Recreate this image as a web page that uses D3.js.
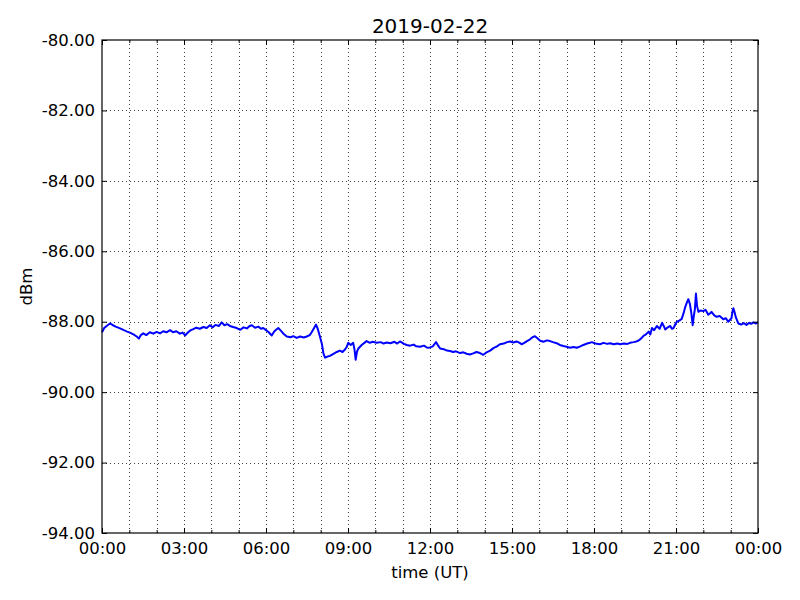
<!DOCTYPE html>
<html>
<head>
<meta charset="utf-8">
<title>2019-02-22</title>
<style>
  html, body { margin: 0; padding: 0; background: #fff; }
  svg { display: block; }
  text { font-family: "DejaVu Sans", sans-serif; fill: #000; }
  .grid line { stroke: #000; stroke-width: 1; stroke-dasharray: 1,3; opacity: 0.75; }
</style>
</head>
<body>
<svg id="chart" width="800" height="600"></svg>
<script src="https://cdn.jsdelivr.net/npm/d3@7"></script>
<script>
// hours since 00:00 UT
var hours = [
  0.00, 0.08, 0.17, 0.29, 0.40, 0.50, 0.66, 0.80, 0.92, 1.02, 1.15, 1.27, 1.35, 1.42, 1.51, 1.62, 1.75, 1.88,
  2.00, 2.12, 2.24, 2.36, 2.49, 2.60, 2.72, 2.85, 2.95, 3.04, 3.15, 3.25, 3.34, 3.45, 3.58, 3.71, 3.83, 3.95,
  4.05, 4.15, 4.28, 4.38, 4.48, 4.58, 4.68, 4.80, 4.93, 5.06, 5.18, 5.30, 5.40, 5.48, 5.60, 5.72, 5.82, 5.90,
  6.00, 6.10, 6.21, 6.30, 6.38, 6.45, 6.55, 6.65, 6.76, 6.90, 7.00, 7.12, 7.25, 7.38, 7.49, 7.60, 7.67, 7.76,
  7.83, 7.90, 7.98, 8.05, 8.10, 8.16, 8.25, 8.34, 8.45, 8.59, 8.70, 8.80, 8.89, 8.95, 9.01, 9.10, 9.19, 9.24,
  9.28, 9.33, 9.38, 9.50, 9.60, 9.68, 9.80, 9.90, 10.05, 10.20, 10.30, 10.42, 10.55, 10.70, 10.80, 10.90,
  11.05, 11.15, 11.27, 11.40, 11.50, 11.64, 11.78, 11.90, 12.00, 12.10, 12.22, 12.30, 12.37, 12.50, 12.62,
  12.73, 12.85, 12.95, 13.10, 13.22, 13.34, 13.46, 13.58, 13.70, 13.83, 13.95, 14.05, 14.20, 14.32, 14.45,
  14.56, 14.70, 14.82, 14.93, 15.05, 15.17, 15.28, 15.35, 15.45, 15.55, 15.66, 15.75, 15.84, 15.93, 16.03,
  16.15, 16.28, 16.39, 16.50, 16.63, 16.75, 16.88, 17.00, 17.12, 17.25, 17.37, 17.50, 17.61, 17.75, 17.85,
  17.92, 18.05, 18.22, 18.35, 18.48, 18.59, 18.72, 18.85, 18.96, 19.10, 19.22, 19.32, 19.45, 19.55, 19.62,
  19.72, 19.81, 19.90, 20.00, 20.06, 20.12, 20.20, 20.30, 20.40, 20.49, 20.55, 20.61, 20.70, 20.79, 20.85,
  20.91, 20.97, 21.03, 21.12, 21.21, 21.28, 21.33, 21.40, 21.45, 21.51, 21.56, 21.61, 21.65, 21.69, 21.73,
  21.77, 21.82, 21.90, 22.00, 22.08, 22.18, 22.25, 22.30, 22.40, 22.49, 22.60, 22.73, 22.82, 22.91, 22.97,
  23.03, 23.07, 23.10, 23.15, 23.19, 23.28, 23.38, 23.48, 23.58, 23.68, 23.75, 23.83, 23.92, 24.00
];
var dbm = [
  -88.30, -88.18, -88.12, -88.05, -88.10, -88.14, -88.19, -88.24, -88.28, -88.31, -88.36, -88.42, -88.48, -88.38, -88.33, -88.38, -88.30, -88.34,
  -88.29, -88.33, -88.27, -88.30, -88.24, -88.30, -88.27, -88.34, -88.31, -88.39, -88.30, -88.24, -88.21, -88.17, -88.20, -88.15, -88.18, -88.10,
  -88.16, -88.09, -88.12, -88.02, -88.10, -88.07, -88.12, -88.15, -88.18, -88.23, -88.16, -88.19, -88.12, -88.10, -88.17, -88.14, -88.20, -88.18,
  -88.24, -88.30, -88.39, -88.28, -88.22, -88.18, -88.26, -88.35, -88.42, -88.44, -88.41, -88.46, -88.42, -88.45, -88.42, -88.38, -88.30, -88.18,
  -88.08, -88.22, -88.44, -88.65, -88.90, -89.02, -88.99, -88.97, -88.92, -88.86, -88.82, -88.86, -88.79, -88.72, -88.60, -88.66, -88.60, -88.80,
  -89.08, -88.85, -88.76, -88.66, -88.60, -88.55, -88.60, -88.57, -88.60, -88.58, -88.62, -88.59, -88.61, -88.57, -88.62, -88.56,
  -88.63, -88.66, -88.68, -88.65, -88.70, -88.71, -88.68, -88.74, -88.73, -88.70, -88.58, -88.68, -88.76, -88.78, -88.82,
  -88.83, -88.86, -88.84, -88.89, -88.87, -88.91, -88.93, -88.90, -88.86, -88.89, -88.94, -88.88, -88.82, -88.75, -88.70,
  -88.64, -88.62, -88.58, -88.56, -88.59, -88.56, -88.60, -88.64, -88.60, -88.55, -88.50, -88.44, -88.41, -88.47, -88.54,
  -88.57, -88.53, -88.55, -88.58, -88.61, -88.66, -88.69, -88.71, -88.74, -88.72, -88.74, -88.70, -88.66, -88.62, -88.60,
  -88.58, -88.62, -88.64, -88.60, -88.63, -88.61, -88.64, -88.62, -88.64, -88.62, -88.63, -88.60, -88.58, -88.56, -88.54,
  -88.48, -88.40, -88.36, -88.28, -88.36, -88.18, -88.24, -88.12, -88.20, -88.03, -88.12, -88.22, -88.16, -88.12, -88.20,
  -88.18, -88.08, -88.00, -87.97, -87.92, -87.75, -87.60, -87.45, -87.36, -87.50, -87.75, -88.10, -87.85, -87.65, -87.20,
  -87.55, -87.72, -87.68, -87.70, -87.66, -87.80, -87.76, -87.72, -87.82, -87.86, -87.84, -87.93, -87.90, -88.00, -87.95,
  -87.90, -87.70, -87.62, -87.75, -87.88, -88.05, -88.08, -88.04, -88.09, -88.03, -88.06, -88.02, -88.05, -88.02
];
var yTicks = [-94, -92, -90, -88, -86, -84, -82, -80];
var xMajor = [0, 3, 6, 9, 12, 15, 18, 21, 24];
var xMinor = d3.range(0, 25, 1);

var width = 800, height = 600;
var margin = {top: 40, right: 42, bottom: 67, left: 102};
var svg = d3.select("#chart");

var x = d3.scaleLinear().domain([0, 24]).range([margin.left, width - margin.right]);
var y = d3.scaleLinear().domain([-94, -80]).range([height - margin.bottom, margin.top]);

function hhmm(h) { return d3.format("02d")(h % 24) + ":00"; }
function fmt2(v) { return v.toFixed(2); }   // plain hyphen minus, like the original

// grid
var grid = svg.append("g").attr("class", "grid");
grid.selectAll(".vg").data(xMinor.slice(1, -1)).enter().append("line")
    .attr("x1", function(d) { return Math.round(x(d)) + 0.5; })
    .attr("x2", function(d) { return Math.round(x(d)) + 0.5; })
    .attr("y1", y(-80)).attr("y2", y(-94));
grid.selectAll(".hg").data(yTicks.slice(1, -1)).enter().append("line")
    .attr("y1", function(d) { return Math.round(y(d)) + 0.5; })
    .attr("y2", function(d) { return Math.round(y(d)) + 0.5; })
    .attr("x1", x(0)).attr("x2", x(24));

// data line
svg.append("path")
    .datum(hours.map(function(h, i) { return [h, dbm[i]]; }))
    .attr("fill", "none")
    .attr("stroke", "#0000ff")
    .attr("stroke-width", 2)
    .attr("stroke-linejoin", "round")
    .attr("d", d3.line().x(function(d) { return x(d[0]); }).y(function(d) { return y(d[1]); }));

// axes, ticks pointing inward like matplotlib classic
svg.append("g").attr("transform", "translate(0," + y(-94) + ")")
    .call(d3.axisBottom(x).tickValues(xMajor).tickSize(-5).tickPadding(9).tickFormat(hhmm));
svg.append("g").attr("transform", "translate(0," + y(-94) + ")")
    .call(d3.axisBottom(x).tickValues(xMinor).tickSize(-3).tickFormat(""));
svg.append("g").attr("transform", "translate(0," + y(-80) + ")")
    .call(d3.axisTop(x).tickValues(xMajor).tickSize(-5).tickFormat(""));
svg.append("g").attr("transform", "translate(0," + y(-80) + ")")
    .call(d3.axisTop(x).tickValues(xMinor).tickSize(-3).tickFormat(""));
svg.append("g").attr("transform", "translate(" + x(0) + ",0)")
    .call(d3.axisLeft(y).tickValues(yTicks).tickSize(-5).tickPadding(7).tickFormat(fmt2));
svg.append("g").attr("transform", "translate(" + x(24) + ",0)")
    .call(d3.axisRight(y).tickValues(yTicks).tickSize(-5).tickFormat(""));

svg.selectAll(".domain").remove();
svg.selectAll(".tick line").attr("stroke", "#000");
svg.selectAll(".tick text")
    .style("font-family", "'DejaVu Sans', sans-serif")
    .style("font-size", "16.5px")
    .attr("fill", "#000");

// frame
svg.append("rect")
    .attr("x", x(0)).attr("y", y(-80))
    .attr("width", x(24) - x(0)).attr("height", y(-94) - y(-80))
    .attr("fill", "none").attr("stroke", "#000").attr("stroke-width", 1.2);

// labels
svg.append("text").attr("x", (x(0) + x(24)) / 2).attr("y", 33)
    .attr("text-anchor", "middle").style("font-size", "20px").text("2019-02-22");
svg.append("text").attr("x", (x(0) + x(24)) / 2).attr("y", 578)
    .attr("text-anchor", "middle").style("font-size", "16.5px").text("time (UT)");
svg.append("text")
    .attr("transform", "translate(32," + (y(-87)) + ") rotate(-90)")
    .attr("text-anchor", "middle").style("font-size", "16.5px").text("dBm");
</script>
</body>
</html>
